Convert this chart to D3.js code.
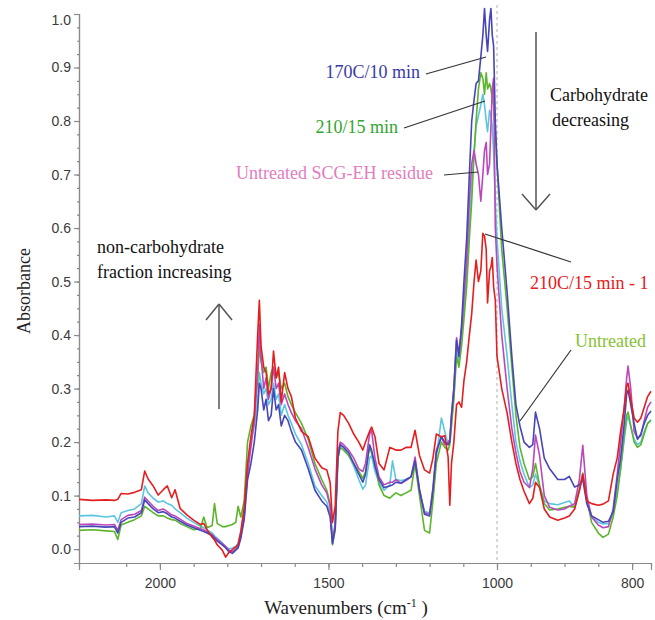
<!DOCTYPE html>
<html><head><meta charset="utf-8">
<script src="https://cdn.jsdelivr.net/npm/d3@7"></script>
<style>body{margin:0;background:#fff}svg{display:block}</style>
</head><body>
<svg id="c" width="655" height="620"></svg>
<script>
// ---- data (wavenumbers in cm-1, absorbance) ----
const wavenumbers = [2240,2200,2160,2135,2125,2115,2095,2075,2055,2045,2035,2020,2005,1990,1978,1965,1955,1940,1920,1900,1880,1870,1860,1845,1838,1830,1815,1805,1795,1785,1775,1768,1760,1750,1740,1730,1720,1710,1705,1700,1692,1685,1678,1670,1663,1655,1648,1640,1630,1620,1610,1598,1580,1560,1540,1520,1505,1495,1488,1480,1472,1465,1455,1440,1425,1410,1398,1390,1378,1372,1362,1350,1335,1318,1310,1300,1285,1270,1255,1243,1230,1215,1200,1190,1180,1165,1155,1145,1140,1135,1128,1120,1113,1105,1098,1090,1082,1075,1068,1062,1055,1048,1042,1037,1032,1028,1022,1018,1014,1010,1005,1000,993,985,978,972,966,960,952,947,943,937,930,922,910,900,893,885,878,873,867,860,850,843,835,828,822,817,812,808,806,802,797,792,787,782,777,772];

const red = [.093,.091,.092,.091,.093,.104,.103,.106,.111,.146,.131,.118,.101,.111,.118,.096,.111,.076,.064,.054,.046,.048,.036,.022,.017,.008,-.002,-.015,-.006,-.001,.004,.009,.033,.078,.160,.210,.250,.400,.465,.380,.340,.330,.290,.300,.370,.320,.340,.275,.330,.300,.285,.245,.220,.210,.170,.152,.148,.125,.050,.080,.220,.255,.250,.235,.215,.200,.185,.200,.220,.228,.210,.160,.148,.190,.188,.185,.185,.190,.190,.222,.175,.148,.142,.170,.215,.210,.212,.172,.082,.160,.200,.270,.275,.265,.315,.350,.400,.440,.500,.540,.500,.520,.590,.585,.560,.460,.520,.527,.545,.490,.465,.360,.300,.254,.200,.160,.130,.108,.085,.095,.125,.115,.075,.060,.054,.058,.062,.075,.110,.140,.090,.085,.082,.084,.090,.140,.170,.220,.260,.305,.310,.280,.245,.237,.245,.265,.285,.295];

const blue = [.042,.043,.041,.042,.030,.050,.058,.060,.068,.092,.085,.075,.068,.070,.066,.060,.058,.052,.045,.040,.035,.033,.030,.025,.020,.015,.008,.002,-.005,-.008,-.002,.002,.020,.055,.130,.160,.200,.260,.310,.300,.260,.280,.240,.250,.300,.260,.270,.230,.250,.240,.220,.200,.185,.150,.110,.090,.080,.060,.010,.040,.170,.195,.190,.180,.160,.140,.125,.140,.195,.185,.155,.130,.115,.118,.120,.125,.123,.130,.135,.165,.110,.065,.062,.110,.180,.210,.200,.195,.200,.250,.300,.390,.360,.420,.500,.580,.700,.800,.840,.870,.875,.920,.960,1.01,.960,.930,.990,1.01,.960,.940,.800,.720,.600,.480,.360,.270,.230,.200,.190,.195,.256,.225,.170,.150,.130,.130,.136,.116,.120,.130,.085,.062,.055,.050,.052,.070,.130,.170,.230,.290,.297,.270,.235,.205,.215,.235,.250,.258];

const magenta = [.046,.047,.045,.046,.035,.055,.063,.065,.072,.097,.090,.080,.072,.075,.070,.064,.062,.056,.048,.043,.038,.036,.032,.027,.022,.018,.010,.005,-.002,-.005,.000,.005,.025,.060,.140,.190,.240,.330,.420,.360,.300,.320,.280,.300,.340,.300,.310,.270,.290,.270,.255,.240,.225,.190,.150,.120,.105,.080,.015,.045,.180,.200,.195,.185,.170,.150,.145,.160,.215,.222,.170,.135,.120,.125,.125,.130,.123,.128,.135,.172,.112,.068,.065,.115,.185,.210,.195,.200,.205,.250,.300,.395,.365,.410,.470,.540,.650,.720,.745,.720,.700,.650,.700,.745,.760,.700,.720,.790,.860,.880,.600,.530,.400,.300,.225,.180,.145,.125,.115,.150,.213,.175,.100,.078,.073,.075,.080,.085,.130,.194,.100,.060,.045,.040,.042,.075,.140,.200,.260,.320,.342,.300,.220,.207,.212,.240,.265,.275];

const cyan = [.062,.063,.060,.062,.050,.068,.072,.075,.085,.118,.105,.095,.088,.090,.085,.082,.075,.068,.058,.050,.043,.040,.036,.030,.025,.020,.012,.005,.000,.002,.005,.010,.030,.065,.150,.205,.230,.280,.330,.310,.290,.300,.270,.280,.310,.280,.290,.250,.270,.250,.235,.215,.195,.160,.118,.100,.088,.068,.012,.050,.180,.195,.190,.175,.155,.130,.112,.120,.170,.175,.145,.125,.110,.120,.165,.130,.128,.130,.135,.162,.108,.070,.068,.100,.170,.245,.220,.195,.200,.240,.285,.370,.350,.400,.450,.510,.600,.680,.740,.790,.810,.830,.850,.830,.800,.780,.820,.810,.790,.740,.650,.580,.450,.360,.270,.200,.165,.140,.115,.120,.140,.118,.090,.085,.083,.087,.090,.078,.110,.135,.090,.062,.050,.047,.048,.065,.110,.150,.200,.240,.248,.230,.205,.195,.200,.220,.235,.242];

const green = [.035,.036,.034,.033,.018,.045,.050,.055,.062,.080,.075,.068,.062,.062,.058,.055,.054,.048,.042,.036,.038,.060,.040,.044,.085,.048,.042,.042,.044,.046,.050,.080,.060,.090,.200,.230,.250,.320,.380,.350,.330,.340,.300,.330,.340,.320,.330,.300,.310,.285,.270,.255,.235,.205,.160,.130,.110,.085,.008,.035,.170,.190,.185,.175,.160,.145,.132,.145,.190,.180,.160,.120,.100,.095,.100,.105,.100,.105,.110,.160,.100,.035,.030,.090,.160,.200,.190,.185,.195,.230,.280,.360,.340,.380,.430,.490,.580,.650,.740,.800,.860,.890,.880,.850,.890,.860,.870,.860,.840,.830,.780,.720,.560,.450,.340,.250,.190,.160,.130,.135,.160,.120,.085,.073,.075,.078,.080,.078,.110,.142,.095,.050,.030,.022,.028,.060,.100,.150,.210,.250,.256,.230,.200,.190,.195,.215,.235,.240];

const yTickValues = [0.0,0.1,0.2,0.3,0.4,0.5,0.6,0.7,0.8,0.9,1.0];
const xTickLabels = [2000,1500,1000,800];
const xMinorTicks = [2100,2000,1900,1800,1700,1600,1500,1400,1300,1200,1100,1000,950,900,850,800];

const series = [
  {name:"cyan", values:cyan, color:"#5cc6e0"},
  {name:"green", values:green, color:"#5bb52c"},
  {name:"magenta", values:magenta, color:"#bb48bb"},
  {name:"blue", values:blue, color:"#4646b8"},
  {name:"red", values:red, color:"#e41e1e"}
];

// ---- layout ----
const svg = d3.select("#c");
const x = d3.scaleLinear().domain([2240,1000,772]).range([79,497,651]);
const y = d3.scaleLinear().domain([-0.026,1.0]).range([563,14]);

svg.append("defs").append("clipPath").attr("id","plot")
  .append("rect").attr("x",79).attr("y",6).attr("width",580).attr("height",558);

// dashed reference line at 1000
svg.append("line").attr("x1",x(1000)).attr("x2",x(1000)).attr("y1",5).attr("y2",563)
  .attr("stroke","#b0b0b0").attr("stroke-width",1).attr("stroke-dasharray","3,3");

// axes
const axisColor = "#8a8a8a";
const yMinor = d3.range(0,1.0001,0.025);
const gyMinor = svg.append("g").attr("transform","translate(79,0)")
  .call(d3.axisLeft(y).tickValues(yMinor).tickSize(2).tickFormat(""));
const gy = svg.append("g").attr("transform","translate(79,0)")
  .call(d3.axisLeft(y).tickValues(yTickValues).tickSize(5).tickPadding(3).tickFormat(d3.format(".1f")));
const gxMinor = svg.append("g").attr("transform","translate(0,563)")
  .call(d3.axisBottom(x).tickValues(xMinorTicks).tickSize(4).tickFormat(""));
const gx = svg.append("g").attr("transform","translate(0,563)")
  .call(d3.axisBottom(x).tickValues(xTickLabels).tickSize(7).tickPadding(8).tickFormat(d3.format("d")));
[gy,gyMinor,gx,gxMinor].forEach(g=>{
  g.selectAll("path").attr("stroke",axisColor).attr("stroke-width",1.2);
  g.selectAll("line").attr("stroke",axisColor).attr("stroke-width",1.2);
  g.selectAll("text").attr("fill","#3a3a3a").attr("font-family","'Liberation Sans', Arial, sans-serif").attr("font-size",14);
});
gy.selectAll(".tick").filter(d=>d===1.0).select("text").attr("dy","0.75em");

// spectra
const line = d3.line().x((d,i)=>x(wavenumbers[i])).y(d=>y(d));
const gl = svg.append("g").attr("clip-path","url(#plot)");
series.forEach(s=>{
  gl.append("path").datum(s.values).attr("d",line)
    .attr("fill","none").attr("stroke",s.color).attr("stroke-width",1.6).attr("stroke-linejoin","round");
});

// axis titles
const serif = "'Liberation Serif','Times New Roman',serif";
svg.append("text").attr("transform","translate(30,291) rotate(-90)").attr("text-anchor","middle")
  .attr("font-family",serif).attr("font-size",18).attr("fill","#222").text("Absorbance");
const xt = svg.append("text").attr("x",346).attr("y",614).attr("text-anchor","middle")
  .attr("font-family",serif).attr("font-size",19).attr("fill","#222");
xt.append("tspan").text("Wavenumbers (cm");
xt.append("tspan").attr("font-size",12).attr("dy",-7).text("-1");
xt.append("tspan").attr("dy",7).text(" )");

// annotations
function label(txt,xp,yp,color,anchor){
  svg.append("text").attr("x",xp).attr("y",yp).attr("font-family",serif).attr("font-size",18)
    .attr("text-anchor",anchor||"start").attr("fill",color).text(txt);
}
label("170C/10 min",420,78,"#3a3aa6","end");
label("210/15 min",398,133,"#33a52e","end");
label("Untreated SCG-EH residue",433,179,"#e27cc0","end");
label("210C/15 min - 1",530,289,"#e42020");
label("Untreated",575,347,"#86c232");
label("Carbohydrate",550,101,"#111");
label("decreasing",552,126,"#111");
label("non-carbohydrate",97,253,"#111");
label("fraction increasing",97,278,"#111");

function seg(x1,y1,x2,y2,c,w){
  svg.append("line").attr("x1",x1).attr("y1",y1).attr("x2",x2).attr("y2",y2)
    .attr("stroke",c).attr("stroke-width",w);
}
// leaders
seg(426,74,486,57,"#333",1.2);
seg(404,128,485,101,"#333",1.2);
seg(444,175,478,172,"#333",1.2);
seg(571,262,485,234,"#333",1.2);
seg(571,350,520,421,"#333",1.2);
// arrows
seg(536,32,536,210,"#555",1.5);
seg(522,194,536,210,"#555",1.5);
seg(550,194,536,210,"#555",1.5);
seg(219,304,219,409,"#555",1.5);
seg(206,320,219,304,"#555",1.5);
seg(232,320,219,304,"#555",1.5);
</script>
</body></html>
